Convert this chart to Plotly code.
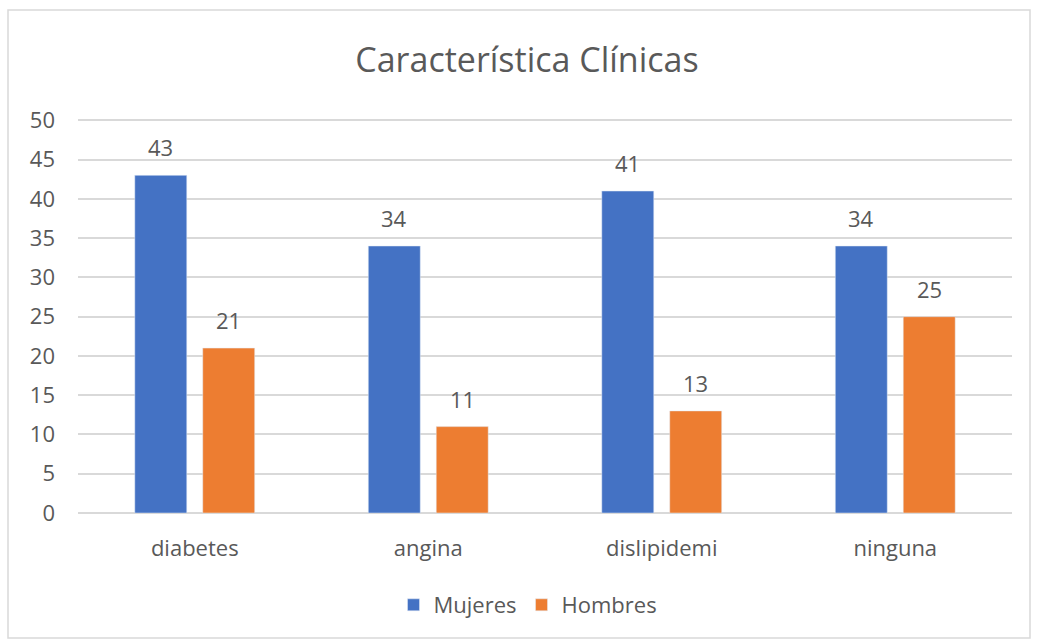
import plotly.graph_objects as go

categorias = ["diabetes", "angina", "dislipidemi", "ninguna"]
mujeres = [43, 34, 41, 34]
hombres = [21, 11, 13, 25]
titulo = "Característica Clínicas"

L, R, T, B = 78, 25, 118, 130
W, H = 1037, 643
pw = W - L - R
ph = H - T - B

def px_x(x):
    return (x - L) / pw

def px_y(y):
    return (H - B - y) / ph

txt = "#595959"
fnt = "Open Sans, Liberation Sans, sans-serif"
fs = 22

fig = go.Figure()
fig.add_trace(go.Bar(name="Mujeres", x=categorias, y=mujeres, marker_color="#4472C4"))
fig.add_trace(go.Bar(name="Hombres", x=categorias, y=hombres, marker_color="#ED7D31"))

annots = []
for serie, shift in ((mujeres, -34), (hombres, 34)):
    for c, v in zip(categorias, serie):
        annots.append(dict(x=c, y=v, xref="x", yref="y", text=str(v), showarrow=False,
                           xshift=shift, yshift=28, yanchor="middle",
                           font=dict(size=fs, color=txt, family=fnt)))

fig.update_layout(
    width=W, height=H,
    margin=dict(l=L, r=R, t=T, b=B),
    paper_bgcolor="white", plot_bgcolor="white",
    barmode="group", bargap=0.418, bargroupgap=0.235,
    font=dict(family=fnt, color=txt),
    title=dict(text=titulo, x=527 / W, xanchor="center", y=1 - 60 / H, yanchor="middle",
               font=dict(size=34, color=txt, family=fnt)),
    legend=dict(orientation="h", x=px_x(528), xanchor="center", y=px_y(605), yanchor="middle",
                font=dict(size=fs, color=txt), traceorder="normal"),
    xaxis=dict(showgrid=False, showline=False, ticks="", ticklabelstandoff=20,
               tickfont=dict(size=fs, color=txt)),
    yaxis=dict(range=[0, 50.3], tickvals=list(range(0, 51, 5)), showgrid=True,
               gridcolor="#d9d9d9", gridwidth=1.5,
               zeroline=True, zerolinecolor="#d9d9d9", zerolinewidth=1.5,
               showline=False, ticks="", ticklabelstandoff=22,
               tickfont=dict(size=fs, color=txt)),
    annotations=annots,
    shapes=[dict(type="rect", xref="paper", yref="paper",
                 x0=px_x(8), x1=px_x(1030), y0=px_y(638), y1=px_y(10),
                 line=dict(color="#d9d9d9", width=1.5), layer="below")],
)

fig.write_html("out.html")
